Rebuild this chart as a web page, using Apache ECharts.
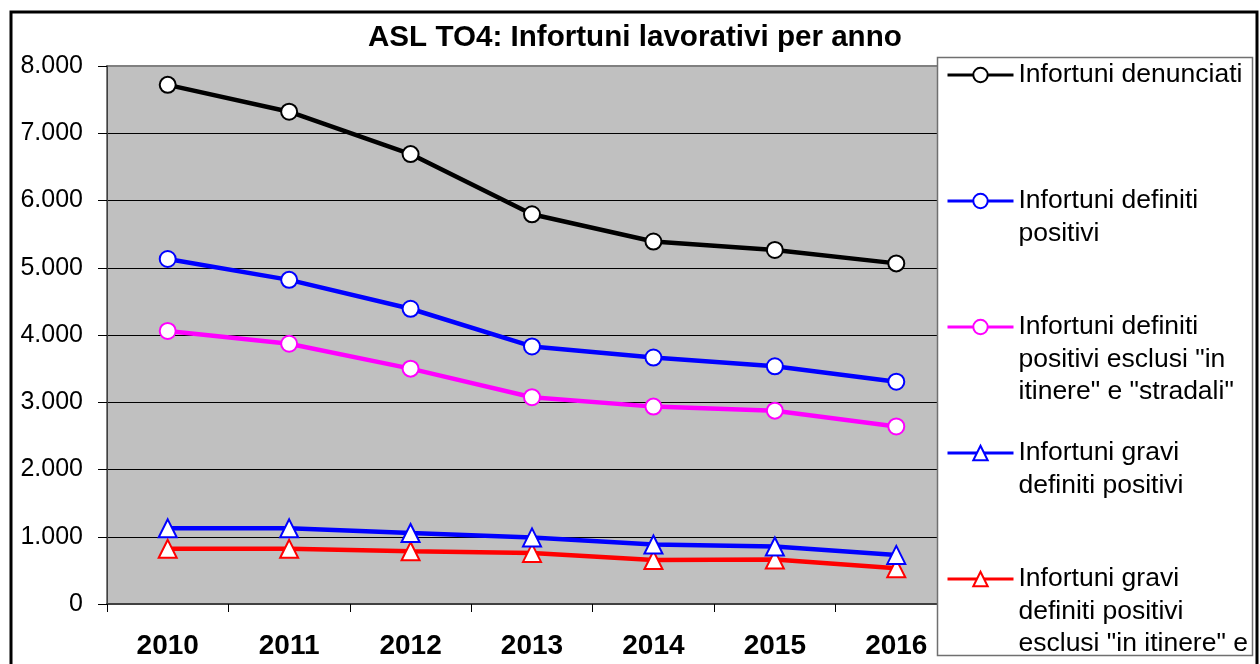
<!DOCTYPE html>
<html>
<head>
<meta charset="utf-8">
<title>ASL TO4: Infortuni lavorativi per anno</title>
<script src="https://cdn.jsdelivr.net/npm/echarts@6/dist/echarts.min.js"></script>
<style>
  html, body { margin: 0; padding: 0; background: #fff; }
  #chart { width: 1260px; height: 664px; }
</style>
</head>
<body>
<div id="chart"></div>
<script>
// anni (asse x)
const years = ['2010', '2011', '2012', '2013', '2014', '2015', '2016'];
// etichette asse y
const yTickLabels = ['0', '1.000', '2.000', '3.000', '4.000', '5.000', '6.000', '7.000', '8.000'];

// valori
const denunciati = [7720, 7320, 6690, 5795, 5390, 5265, 5065];
const definitiPositivi = [5130, 4820, 4390, 3830, 3665, 3535, 3305];
const positiviEsclusi = [4060, 3870, 3500, 3075, 2935, 2875, 2640];
const graviPositivi = [1125, 1125, 1055, 990, 885, 855, 730];
const graviEsclusi = [820, 820, 785, 760, 655, 660, 530];

const seriesNames = [
  'Infortuni denunciati',
  'Infortuni definiti\npositivi',
  'Infortuni definiti\npositivi esclusi "in\nitinere" e "stradali"',
  'Infortuni gravi\ndefiniti positivi',
  'Infortuni gravi\ndefiniti positivi\nesclusi "in itinere" e',
];
const seriesData = [denunciati, definitiPositivi, positiviEsclusi, graviPositivi, graviEsclusi];
const seriesColors = ['#000000', '#0000ff', '#ff00ff', '#0000ff', '#ff0000'];
const seriesSymbols = ['circle', 'circle', 'circle', 'triangle', 'triangle'];

const chart = echarts.init(document.getElementById('chart'));

const LINE_H = 32.5;
// centro verticale dell'icona di ogni voce di legenda
const legendCenters = [75, 201, 327, 453, 579];

const series = seriesData.map((item, index) => ({
  name: seriesNames[index],
  type: 'line',
  data: item,
  symbol: seriesSymbols[index],
  symbolSize: seriesSymbols[index] === 'triangle' ? 18 : 16,
  showAllSymbol: true,
  z: 10 - index,
  lineStyle: { color: seriesColors[index], width: 4.5 },
  itemStyle: { color: '#fff', borderColor: seriesColors[index], borderWidth: 2 },
  emphasis: { disabled: true },
}));

// una legenda per voce, per poterle posizionare come nell'originale:
// righe vuote in testa cosi' l'icona resta sulla prima riga del testo
const legends = seriesNames.map((name, index) => {
  const n = name.split('\n').length;
  return {
    data: [name],
    left: 946,
    top: legendCenters[index] - (2 * n - 1) * LINE_H / 2,
    padding: 0,
    z: 200,
    itemWidth: 66,
    itemHeight: 18,
    selectedMode: false,
    lineStyle: { width: 3 },
    formatter: (label) => '\n'.repeat(n - 1) + label,
    textStyle: {
      fontFamily: 'Liberation Sans',
      fontSize: 26.5,
      color: '#000',
      lineHeight: LINE_H,
    },
  };
});

const option = {
  animation: false,
  backgroundColor: '#fff',
  title: {
    text: 'ASL TO4: Infortuni lavorativi per anno',
    left: 368,
    top: 23,
    padding: 0,
    textStyle: {
      fontFamily: 'Liberation Sans',
      fontSize: 29.6,
      fontWeight: 'bold',
      color: '#000',
    },
  },
  legend: legends,
  graphic: [
    // bordo esterno
    {
      type: 'rect',
      shape: { x: 11, y: 12, width: 1246, height: 700 },
      style: { fill: 'none', stroke: '#000', lineWidth: 3 },
      silent: true,
      z: 100,
    },
    // riquadro legenda (copre la parte destra dell'area del grafico)
    {
      type: 'rect',
      shape: { x: 937.5, y: 57.5, width: 315, height: 598 },
      style: { fill: '#fff', stroke: '#707070', lineWidth: 1.5 },
      silent: true,
      z: 100,
    },
  ],
  grid: {
    left: 107,
    right: 303,
    top: 66,
    bottom: 60,
    show: true,
    backgroundColor: '#c0c0c0',
    borderColor: '#808080',
    borderWidth: 2,
  },
  xAxis: {
    type: 'category',
    data: years,
    boundaryGap: true,
    axisLine: { lineStyle: { color: '#404040', width: 2 } },
    axisTick: { show: true, length: 8, lineStyle: { color: '#000' } },
    axisLabel: {
      margin: 28,
      fontFamily: 'Liberation Sans',
      fontSize: 28,
      fontWeight: 'bold',
      color: '#000',
    },
  },
  yAxis: {
    type: 'value',
    min: 0,
    max: 8000,
    interval: 1000,
    axisLine: { show: true, lineStyle: { color: '#404040', width: 1 } },
    axisTick: { show: true, length: 9, lineStyle: { color: '#000' } },
    splitLine: {
      show: true,
      showMinLine: false,
      showMaxLine: false,
      lineStyle: { color: '#000', width: 1 },
    },
    axisLabel: {
      margin: 24,
      fontFamily: 'Liberation Sans',
      fontSize: 25,
      color: '#000',
      formatter: (value, index) => yTickLabels[index],
    },
  },
  series: series,
};

chart.setOption(option);
</script>
</body>
</html>
